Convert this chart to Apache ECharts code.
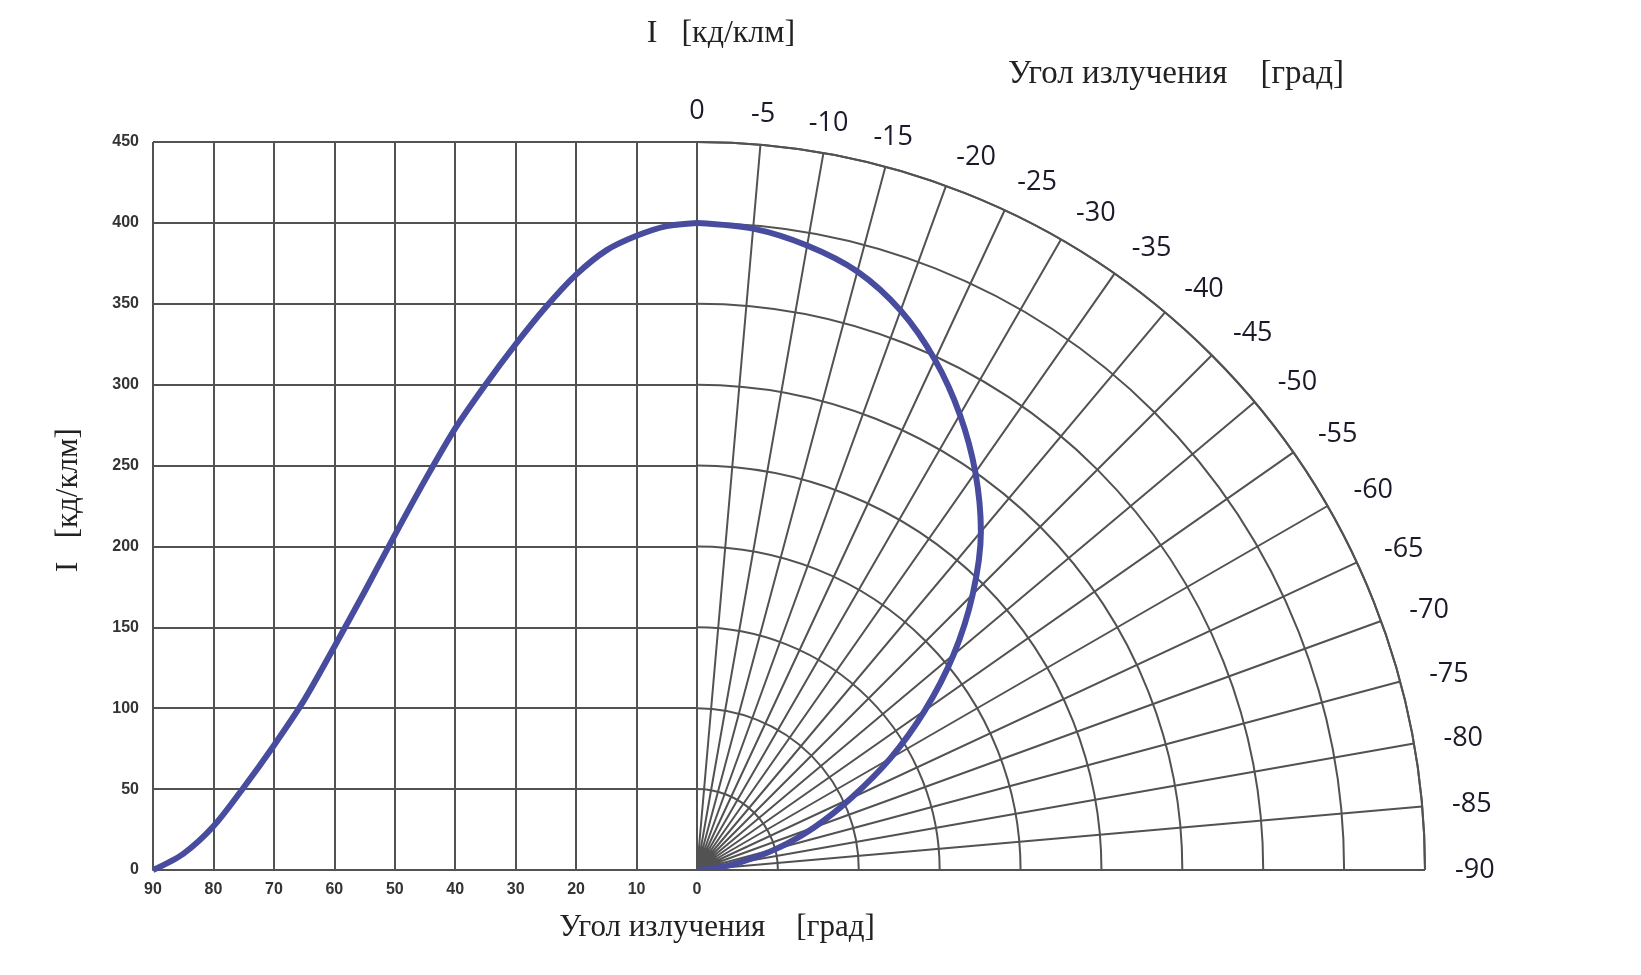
<!DOCTYPE html>
<html>
<head>
<meta charset="utf-8">
<script src="https://cdn.jsdelivr.net/npm/echarts@6/dist/echarts.min.js"></script>
<style>
html,body{margin:0;padding:0;background:#fff;}
#chart{width:1641px;height:975px;}
</style>
</head>
<body>
<div id="chart"></div>
<script>
// Emission angle (degrees) and luminous intensity (cd/klm)
const angles = [0, 5, 10, 15, 20, 25, 30, 35, 40, 45, 50, 55, 60, 65, 70, 75, 80, 85, 90];
const intensity = [400, 398, 392, 383, 368, 348, 325, 300, 273, 241, 207, 172, 138, 105, 77, 51, 27, 10, 0];
const xTicks = [0, 10, 20, 30, 40, 50, 60, 70, 80, 90];
const yTicks = [0, 50, 100, 150, 200, 250, 300, 350, 400, 450];

const gridColor = '#525252';
const curveColor = '#474c9e';
const cx = 697, cy = 870, R = 728;

const cartData = angles.map((a, i) => [a, intensity[i]]);
const polarData = angles.map((a, i) => [intensity[i], a]);

const chart = echarts.init(document.getElementById('chart'));
chart.setOption({
  backgroundColor: '#ffffff',
  animation: false,
  grid: { left: 153, right: 1641 - cx, top: cy - R, bottom: 975 - cy, containLabel: false },
  xAxis: {
    type: 'value', min: 0, max: 90, interval: 10, inverse: true,
    axisLine: { show: true, lineStyle: { color: gridColor, width: 2 } },
    axisTick: { show: false },
    axisLabel: { color: '#333', fontFamily: 'Liberation Sans', fontWeight: 'bold', fontSize: 16, margin: 12 },
    splitLine: { show: true, lineStyle: { color: gridColor, width: 2 } }
  },
  yAxis: {
    type: 'value', min: 0, max: 450, interval: 50,
    axisLine: { show: true, lineStyle: { color: gridColor, width: 2 } },
    axisTick: { show: false },
    axisLabel: { color: '#333', fontFamily: 'Liberation Sans', fontWeight: 'bold', fontSize: 16, margin: 14 },
    splitLine: { show: true, lineStyle: { color: gridColor, width: 2 } }
  },
  polar: { center: [cx, cy], radius: R },
  angleAxis: {
    type: 'value', min: 0, max: 90, interval: 5,
    startAngle: 90, endAngle: 0, clockwise: true,
    axisLine: { show: true, lineStyle: { color: gridColor, width: 2 } },
    axisTick: { show: false },
    axisLabel: {
      color: '#1a1a2a', fontFamily: 'Open Sans', fontSize: 27, margin: 30, lineHeight: 1,
      formatter: v => v === 0 ? '0' : '-' + v
    },
    splitLine: { show: true, lineStyle: { color: gridColor, width: 2 } }
  },
  radiusAxis: {
    type: 'value', min: 0, max: 450, interval: 50,
    axisLine: { show: true, lineStyle: { color: gridColor, width: 2 } },
    axisTick: { show: false },
    axisLabel: { show: false },
    splitLine: { show: true, lineStyle: { color: gridColor, width: 2 } }
  },
  graphic: [
    { type: 'text', x: 721, y: 34, style: { text: 'I   [кд/клм]', font: '32px "Liberation Serif"', fill: '#222', align: 'center', verticalAlign: 'middle', textAlign: 'center', textVerticalAlign: 'middle' } },
    { type: 'text', x: 1176, y: 74, style: { text: 'Угол излучения    [град]', font: '33px "Liberation Serif"', fill: '#222', align: 'center', verticalAlign: 'middle', textAlign: 'center', textVerticalAlign: 'middle' } },
    { type: 'text', x: 717, y: 928, style: { text: 'Угол излучения    [град]', font: '31px "Liberation Serif"', fill: '#222', align: 'center', verticalAlign: 'middle', textAlign: 'center', textVerticalAlign: 'middle' } },
    { type: 'text', x: 69, y: 500, rotation: Math.PI / 2, style: { text: 'I   [кд/клм]', font: '31px "Liberation Serif"', fill: '#222', align: 'center', verticalAlign: 'middle', textAlign: 'center', textVerticalAlign: 'middle' } }
  ],
  series: [
    {
      type: 'line', coordinateSystem: 'cartesian2d', data: cartData,
      smooth: 0.3, symbol: 'none',
      lineStyle: { color: curveColor, width: 6 }, z: 5
    },
    {
      type: 'line', coordinateSystem: 'polar', data: polarData,
      smooth: 0.3, symbol: 'none',
      lineStyle: { color: curveColor, width: 6 }, z: 5
    }
  ]
});
</script>
</body>
</html>
